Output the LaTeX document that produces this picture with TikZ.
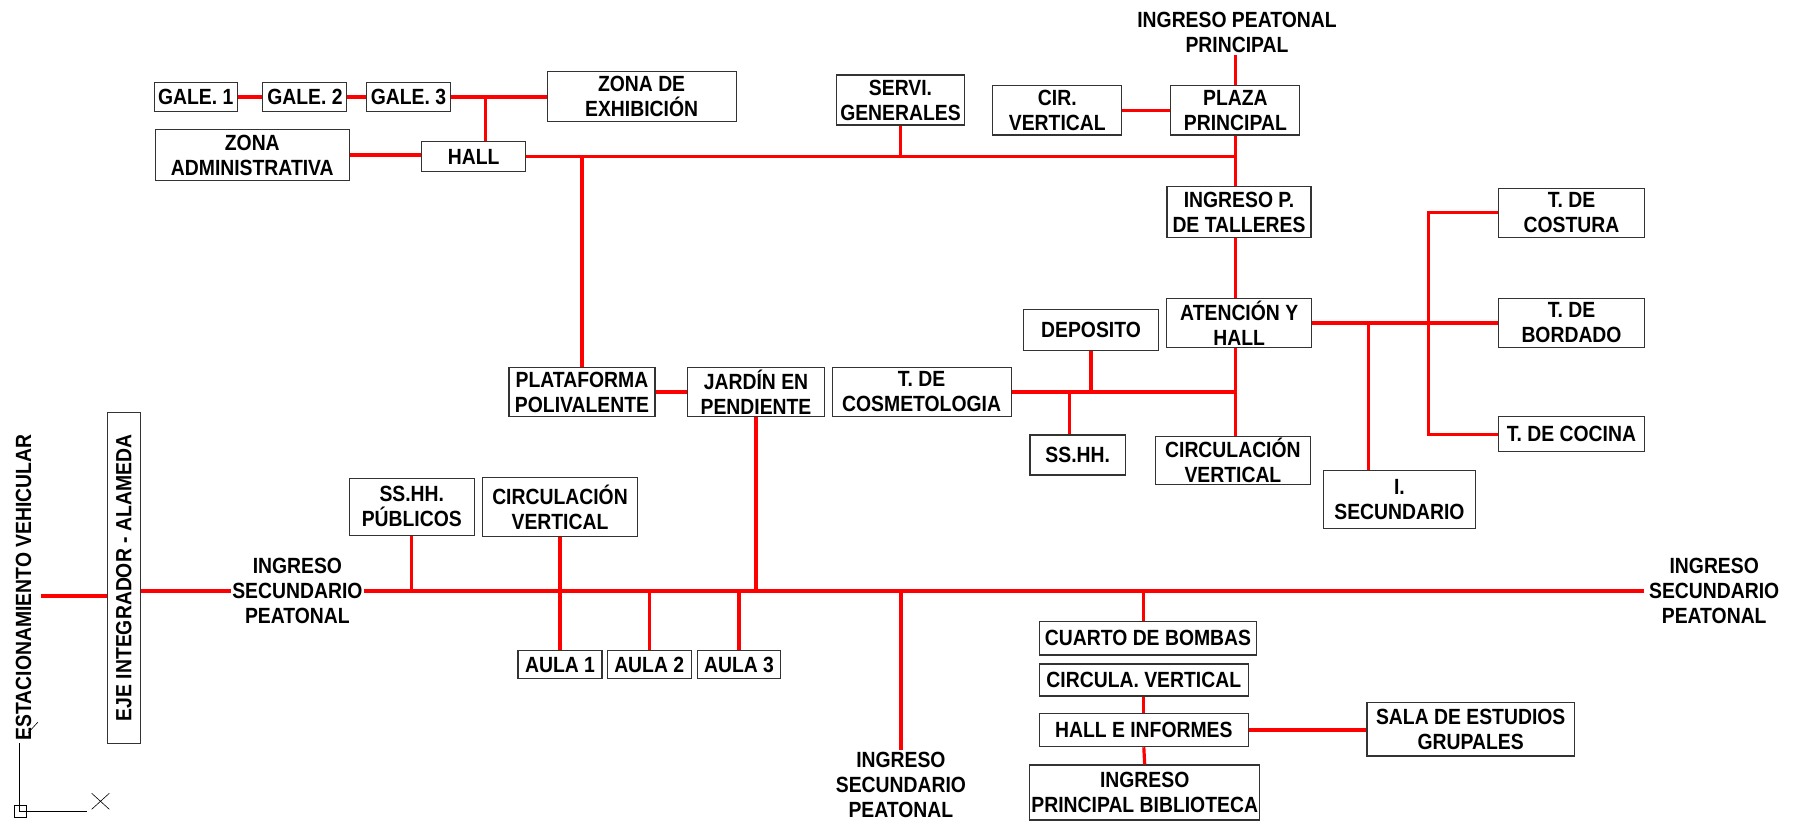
\documentclass[tikz,border=0pt]{standalone}
\usepackage{fontspec}
\usepackage{graphicx}
\setmainfont{Liberation Sans}[FakeStretch=0.88]
\begin{document}
\begin{tikzpicture}[
    x=1pt, y=-1pt,
    every node/.style={font={\fontsize{22}{25}\selectfont\bfseries}},
    caja/.style={draw=black!80,line width=1.1pt,fill=white,align=center,inner sep=1pt},
    rotulo/.style={align=center,inner sep=2pt},
    enlace/.style={red,line width=3.2pt}]
    \useasboundingbox (0,0) rectangle (1801,822);

    % Galerías, administración y hall.
    \node[caja,minimum width=83pt,minimum height=28.5pt] (gale1) at (195.7,96.9) {GALE. 1};
    \node[caja,minimum width=84pt,minimum height=28.5pt] (gale2) at (304.9,96.9) {GALE. 2};
    \node[caja,minimum width=84pt,minimum height=28.5pt] (gale3) at (408.4,96.9) {GALE. 3};
    \node[caja,minimum width=189pt,minimum height=50.7pt] (exhib) at (641.6,96.4) {ZONA DE\\EXHIBICIÓN};
    \node[caja,minimum width=194.4pt,minimum height=51.4pt] (admin) at (252.3,155) {ZONA\\ADMINISTRATIVA};
    \node[caja,minimum width=103.6pt,minimum height=30.6pt] (hall) at (473.7,156.5) {HALL};
    \node[caja,minimum width=128.3pt,minimum height=50pt] (servi) at (900.5,100) {SERVI.\\GENERALES};

    % Plaza principal y talleres.
    \node[rotulo] (ingtop) at (1237,32.8) {INGRESO PEATONAL\\PRINCIPAL};
    \node[caja,minimum width=129pt,minimum height=49.3pt] (cirv) at (1057.3,110.3) {CIR.\\VERTICAL};
    \node[caja,minimum width=129pt,minimum height=49.3pt] (plaza) at (1235.4,110.3) {PLAZA\\PRINCIPAL};
    \coordinate (colplaza) at (1235.2,0);
    \node[caja,minimum width=144pt,minimum height=50.8pt] (ingtall) at (1239,212) {INGRESO P.\\DE TALLERES};
    \node[caja,minimum width=145.3pt,minimum height=49.4pt] (atenc) at (1239.2,323) {ATENCIÓN Y\\HALL};
    \node[caja,minimum width=145.3pt,minimum height=49pt] (costura) at (1571.5,212.8) {T. DE\\COSTURA};
    \node[caja,minimum width=145.3pt,minimum height=49.4pt] (bordado) at (1571.5,323) {T. DE\\BORDADO};
    \node[caja,minimum width=145.3pt,minimum height=35pt] (cocina) at (1571.5,434.2) {T. DE COCINA};
    \node[caja,minimum width=151.5pt,minimum height=58.3pt] (isec) at (1399.4,499.2) {I.\\SECUNDARIO};
    \node[caja,minimum width=155.7pt,minimum height=48.3pt] (circv2) at (1232.9,460.2) {CIRCULACIÓN\\VERTICAL};
    \node[caja,minimum width=135.2pt,minimum height=41.3pt] (deposito) at (1091,329.7) {DEPOSITO};
    \node[caja,minimum width=95.4pt,minimum height=40pt] (sshh) at (1077.7,455) {SS.HH.};
    \node[caja,minimum width=179pt,minimum height=49.4pt] (cosmet) at (921.6,392) {T. DE\\COSMETOLOGIA};
    \node[caja,minimum width=137.8pt,minimum height=49.4pt] (jardin) at (756,392) {JARDÍN EN\\PENDIENTE};
    \node[caja,minimum width=146pt,minimum height=49.4pt] (plataf) at (582,392) {PLATAFORMA\\POLIVALENTE};

    % Eje integrador y aulas.
    \node[rotulo] (estac) at (23.5,587.5) {\rotatebox{90}{ESTACIONAMIENTO VEHICULAR}};
    \node[caja,minimum width=33.2pt,minimum height=330.6pt] (eje) at (123.7,578) {\rotatebox{90}{EJE INTEGRADOR - ALAMEDA}};
    \node[rotulo,inner sep=1pt] (ingL) at (297.4,591) {INGRESO\\SECUNDARIO\\PEATONAL};
    \node[rotulo,inner sep=5pt] (ingR) at (1714.2,591) {INGRESO\\SECUNDARIO\\PEATONAL};
    \node[caja,minimum width=124.5pt,minimum height=56.7pt] (sspub) at (411.8,506.7) {SS.HH.\\PÚBLICOS};
    \node[caja,minimum width=155.7pt,minimum height=59pt] (circv1) at (560,507.2) {CIRCULACIÓN\\VERTICAL};
    \node[caja,minimum width=84pt,minimum height=28pt] (aula1) at (560,664.7) {AULA 1};
    \node[caja,minimum width=84pt,minimum height=28pt] (aula2) at (649.2,664.7) {AULA 2};
    \node[caja,minimum width=83pt,minimum height=28pt] (aula3) at (739,664.7) {AULA 3};

    % Biblioteca.
    \node[rotulo] (ingB) at (900.9,785) {INGRESO\\SECUNDARIO\\PEATONAL};
    \node[caja,minimum width=217pt,minimum height=33.3pt] (bombas) at (1148,638.3) {CUARTO DE BOMBAS};
    \node[caja,minimum width=208.8pt,minimum height=32pt] (circula) at (1143.8,680) {CIRCULA. VERTICAL};
    \node[caja,minimum width=208.8pt,minimum height=33.4pt] (halle) at (1143.8,730) {HALL E INFORMES};
    \node[caja,minimum width=229.8pt,minimum height=55pt] (ingbib) at (1144.7,792.5) {INGRESO\\PRINCIPAL BIBLIOTECA};
    \node[caja,minimum width=207.5pt,minimum height=53.3pt] (sala) at (1470.7,729.3) {SALA DE ESTUDIOS\\GRUPALES};

    % Conexiones del bloque superior.
    \coordinate (jgal) at (485.7,96.9);
    \draw[enlace] (gale1.east) -- (gale2.west);
    \draw[enlace] (gale2.east) -- (gale3.west);
    \draw[enlace] (gale3.east) -- (gale3.east -| exhib.west);
    \draw[enlace] (jgal) -- (jgal |- hall.north);
    \draw[enlace] (admin.east) -- (admin.east -| hall.west);
    \draw[enlace] (hall.east) -- (hall.east -| colplaza);
    \draw[enlace] (servi.south) -- (servi.south |- hall.east);
    \draw[enlace] (plataf.north) -- (plataf.north |- hall.east);
    \draw[enlace] (plaza.north |- ingtop.south) -- (plaza.north);
    \draw[enlace] (cirv.east) -- (plaza.west);
    \draw[enlace] (colplaza |- plaza.south) -- (colplaza |- ingtall.north);
    \draw[enlace] (colplaza |- ingtall.south) -- (colplaza |- atenc.north);

    % Talleres.
    \coordinate (jtall) at (1428.2,323);
    \coordinate (jsec) at (1368.8,323);
    \draw[enlace] (atenc.east) -- (atenc.east -| bordado.west);
    \draw[enlace] (costura.west) -| (jtall) |- (cocina.west);
    \draw[enlace] (jsec) -- (jsec |- isec.north);
    \draw[enlace] (colplaza |- atenc.south) -- (colplaza |- circv2.north);
    \draw[enlace] (cosmet.east) -- (cosmet.east -| colplaza);
    \draw[enlace] (deposito.south) -- (deposito.south |- cosmet.east);
    \coordinate (jss) at (1069.8,392);
    \draw[enlace] (jss) -- (jss |- sshh.north);
    \draw[enlace] (plataf.east) -- (jardin.west);

    % Eje principal.
    \coordinate (jest) at (40.8,596);
    \draw[enlace] (jest) -- (jest -| eje.west);
    \draw[enlace] (ingL.west -| eje.east) -- (ingL.west);
    \draw[enlace] (ingL.east) -- (ingR.west);
    \draw[enlace] (sspub.south) -- (sspub.south |- ingR.west);
    \draw[enlace] (circv1.south) -- (aula1.north);
    \draw[enlace] (aula2.north) -- (aula2.north |- ingR.west);
    \draw[enlace] (aula3.north) -- (aula3.north |- ingR.west);
    \draw[enlace] (jardin.south) -- (jardin.south |- ingR.west);
    \draw[enlace] (ingB.north) -- (ingB.north |- ingR.west);
    \draw[enlace] (halle.north |- ingR.west) -- (halle.north |- bombas.north);
    \draw[enlace] (circula.south) -- (halle.north);
    \draw[enlace] (halle.south) -- (ingbib.north);
    \draw[enlace] (halle.east) -- (halle.east -| sala.west);

    % Icono de coordenadas.
    \draw[line width=0.8pt] (19.3,743.3) -- (19.3,811.7) -- (87.3,811.7);
    \draw[line width=0.8pt] (14.3,805) rectangle (26,817.3);
    \draw[line width=0.6pt] (91.7,793.3) -- (109.3,809.3) (91.7,809.3) -- (109.3,793.3);
    \draw[line width=0.6pt] (28,733) -- (38,722);
\end{tikzpicture}
\end{document}
